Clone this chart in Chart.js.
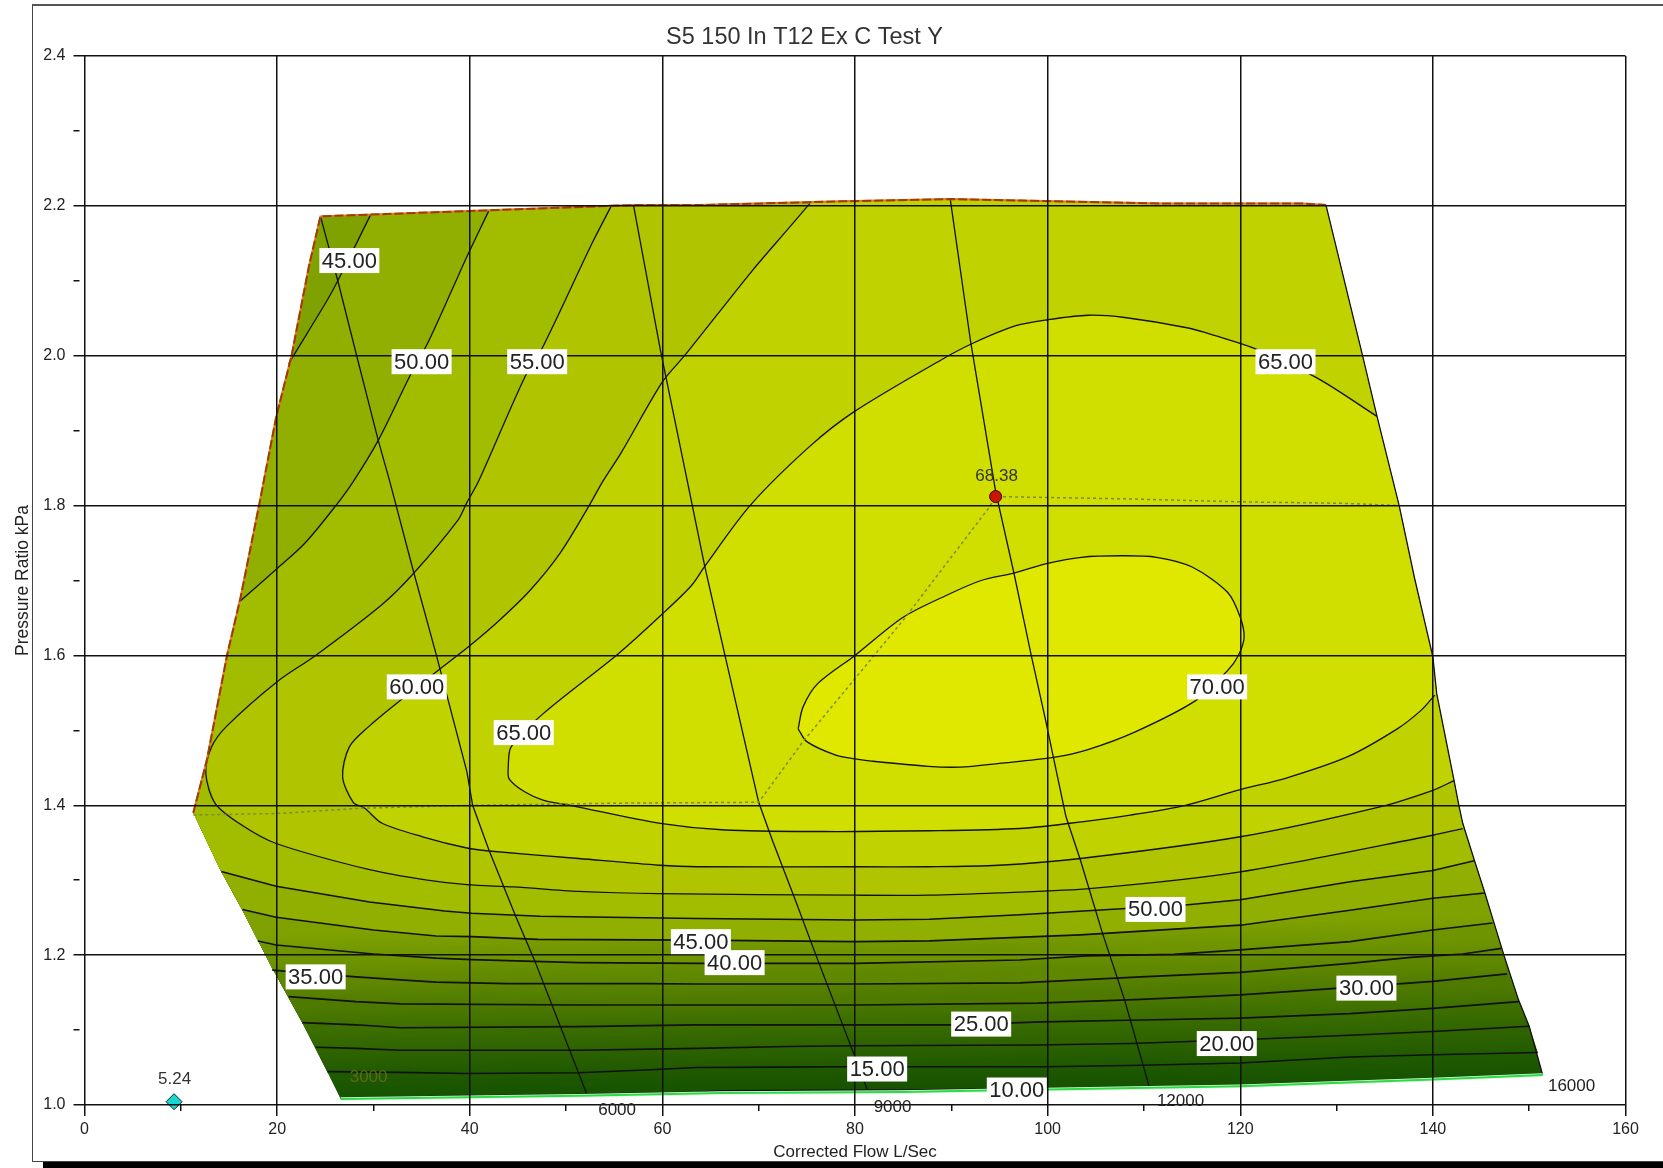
<!DOCTYPE html>
<html lang="en">
<head>
    <meta charset="UTF-8">
    <title>S5 150 In T12 Ex C Test Y</title>
    <script src="https://cdn.jsdelivr.net/npm/chart.js"></script>
    <style>
        body { margin: 0; background: white; overflow: hidden; }
        #wrap { position: relative; width: 1663px; height: 1168px; }
        #frame { position: absolute; left: 32px; top: 4px; right: 0; bottom: 6px; border-left: 1px solid #444; border-top: 2px solid #555; border-bottom: 1px solid #444; }
        #shadow { position: absolute; left: 43px; right: 0; bottom: 0; height: 6px; background: black; }
        canvas { position: absolute; left: 0; top: 0; }
    </style>
</head>
<body>
    <div id="wrap">
        <div id="frame"></div>
        <div id="shadow"></div>
        <canvas id="map" width="1663" height="1168"></canvas>
    </div>

    <script>
        var chartTitle = "S5 150 In T12 Ex C Test Y";
        var xTitle = "Corrected Flow L/Sec";
        var yTitle = "Pressure Ratio kPa";

        // outline of the map, [flow, pressure ratio]
        var boundaryLeft = [[24.5,2.186],[23.3,2.119],[21.5,2.0],[19.9,1.918],[18.2,1.805],[16.2,1.677],[14.8,1.6],[12.7,1.46],[11.3,1.39],[14.1,1.314],[16.4,1.26],[19.4,1.185],[22.6,1.11],[25.2,1.0445],[26.6,1.008]];
        var boundaryTop = [[128.9,2.201],[126.5,2.203],[111.9,2.203],[97.3,2.207],[89.9,2.209],[78.6,2.206],[63.7,2.201],[57,2.201],[54.7,2.2],[42,2.194],[24.5,2.186]];
        var boundaryRight = [[151.4,1.04],[150,1.105],[148.9,1.14],[147.4,1.199],[146.3,1.245],[145.4,1.283],[144.3,1.327],[143.1,1.376],[142.7,1.4],[142.2,1.433],[140.4,1.549],[140,1.598],[138.1,1.703],[136.5,1.8],[134.2,1.919],[132.7,2.0],[128.9,2.201]];
        var boundaryBottom = [[26.6,1.008],[39.7,1.0105],[51.3,1.0125],[63.6,1.0155],[66,1.016],[84.8,1.0175],[93.7,1.0195],[120,1.025],[140,1.034],[151.4,1.04]];

        // efficiency contours
        var contour10 = [[26.6,1.009],[39.7,1.012],[51.3,1.014],[63.6,1.017],[66,1.019],[84.8,1.02],[93.7,1.021],[100,1.022]];
        var contour15 = [[25.2,1.0445],[32.8,1.0436],[39.7,1.042],[51.3,1.043],[58.8,1.047],[63.6,1.05],[72,1.0505],[80,1.051],[91.4,1.051],[100,1.051],[109.7,1.053],[120,1.056],[131.4,1.064],[140,1.067],[150.9,1.07]];
        var contour20 = [[24,1.077],[28.2,1.0756],[32.8,1.073],[51.3,1.073],[63.6,1.0756],[73,1.078],[80,1.079],[98.9,1.08],[108.6,1.082],[120,1.087],[131.4,1.093],[140,1.098],[150,1.105]];
        var contour25 = [[22.6,1.11],[28.2,1.107],[32.8,1.103],[51.3,1.1046],[63.6,1.107],[80,1.107],[90.3,1.107],[99.4,1.111],[109.7,1.1135],[120,1.116],[131.4,1.122],[140,1.129],[148.9,1.138]];
        var contour30 = [[21.2,1.1446],[28.2,1.138],[32.8,1.135],[51.3,1.1335],[63.6,1.1335],[80,1.1335],[98.9,1.136],[109.7,1.141],[120,1.147],[130.3,1.156],[140,1.165],[147.7,1.175]];
        var contour35 = [[19.5,1.18],[28.2,1.171],[32.8,1.167],[36.5,1.164],[43.9,1.162],[58.2,1.162],[63.6,1.1615],[80,1.1615],[97.1,1.163],[109.7,1.171],[120,1.177],[131.4,1.189],[137.7,1.197],[143.1,1.2015],[147.1,1.209]];
        var contour40 = [[18,1.219],[19.9,1.2136],[30,1.2016],[36.5,1.196],[40.2,1.194],[51.3,1.19],[63.6,1.189],[80,1.189],[97.1,1.1935],[104,1.199],[113.1,1.201],[120,1.207],[131.4,1.218],[140,1.2336],[146.2,1.243]];
        var contour45 = [[16.4,1.261],[19.9,1.2505],[30,1.2336],[36.5,1.2256],[40.2,1.2247],[47.1,1.221],[63.6,1.22],[80,1.218],[87.7,1.219],[103.4,1.227],[120,1.24],[131.4,1.26],[140,1.276],[145.4,1.283]];
        var contour45Upper = [[29.7,2.188],[26.3,2.1],[25.2,2.074],[21.7,2.0],[21.2,1.989]];
        var contour50 = [[14.2,1.3115],[19.9,1.292],[29.6,1.271],[37.4,1.259],[40.2,1.256],[47.3,1.252],[54.5,1.2505],[63.6,1.249],[80,1.247],[87.7,1.248],[97.1,1.254],[114.3,1.267],[120,1.274],[131.4,1.298],[140,1.313],[144.3,1.326]];
        var contour50Upper = [[42,2.194],[39.7,2.132],[38.3,2.092],[35.6,2.016],[33.9,1.976],[30.5,1.887],[27.9,1.832],[26.1,1.8],[22.9,1.75],[20,1.716],[16.2,1.673]];
        var contour55 = [[54.7,2.2],[52.7,2.15],[47.6,2.012],[45.7,1.971],[40.9,1.832],[39.7,1.804],[38.8,1.781],[34.2,1.71],[30.9,1.668],[24,1.6],[20,1.565],[14.8,1.506],[13.2,1.478],[12.6,1.442],[13.6,1.402],[16.4,1.373],[19.9,1.349],[29.6,1.314],[35.6,1.3],[39.7,1.294],[44.6,1.291],[51.3,1.285],[59.7,1.282],[80,1.28],[87.7,1.28],[94.9,1.283],[104.6,1.289],[120,1.311],[140,1.36],[143.1,1.369]];
        var contour60 = [[75.3,2.203],[72.9,2.167],[69.3,2.113],[62.3,2.0],[60,1.965],[55.7,1.87],[53.8,1.832],[52.4,1.8],[49.4,1.737],[46.2,1.686],[43,1.646],[40,1.613],[36.7,1.58],[32.3,1.535],[29.6,1.506],[27.5,1.478],[26.8,1.438],[27.9,1.404],[29.1,1.396],[30.9,1.376],[35.1,1.358],[39.7,1.343],[42,1.339],[51.3,1.329],[59.7,1.32],[63.6,1.318],[80,1.318],[87.7,1.318],[94.9,1.32],[103.4,1.329],[120,1.358],[134.5,1.398],[140,1.42],[142.2,1.433]];
        var contour65 = [[134.2,1.919],[128,1.97],[121.4,2.01],[117.6,2.026],[114.6,2.037],[108,2.051],[104.2,2.054],[100,2.048],[96.7,2.04],[92.3,2.017],[89.3,1.997],[80,1.926],[75.3,1.879],[69.1,1.8],[64.4,1.719],[63,1.693],[59.8,1.653],[55.4,1.602],[47.6,1.522],[44.3,1.478],[44,1.451],[44.1,1.435],[45.7,1.418],[47.6,1.407],[50.8,1.399],[59.8,1.376],[66.5,1.367],[76.6,1.365],[87.7,1.366],[97.1,1.369],[102.3,1.376],[108.6,1.387],[114.3,1.4],[120,1.421],[124.7,1.436],[131.1,1.4645],[136.3,1.502],[138.8,1.527],[140.2,1.547]];
        var contour70 = [[74.1,1.502],[74.6,1.531],[76.1,1.562],[80,1.6],[85,1.651],[89.8,1.682],[93.1,1.7],[96.5,1.71],[100,1.723],[103.5,1.731],[107.6,1.733],[111.3,1.731],[115,1.718],[118.7,1.684],[120,1.651],[120.4,1.624],[119.8,1.6],[118.7,1.58],[115.4,1.54],[109.1,1.498],[104.1,1.474],[100.6,1.464],[95,1.456],[90.9,1.451],[87.6,1.452],[81.7,1.459],[80,1.462],[78,1.467],[75,1.485],[74.1,1.502]];

        // speed lines
        var speed6000 = [[24.5,2.186],[26.3,2.1],[28.2,2.003],[30.5,1.887],[31.7,1.832],[34.2,1.71],[36.5,1.602],[39.7,1.445],[40.3,1.4],[42,1.34],[44.8,1.251],[46.7,1.194],[49.4,1.105],[52.2,1.013]];
        var speed9000 = [[57,2.201],[59.8,2.007],[62.6,1.832],[64.4,1.719],[66.5,1.6],[70,1.404],[71.4,1.354],[73.8,1.2736],[76,1.198],[80,1.064],[81.4,1.016]];
        var speed12000 = [[89.9,2.208],[92,2.019],[94.6,1.819],[96.5,1.71],[98.3,1.6],[99.8,1.513],[100.6,1.464],[101.9,1.385],[103.4,1.327],[105.7,1.229],[108,1.14],[110.6,1.022]];

        var peakLine = [[11.3,1.387],[20,1.389],[28.6,1.396],[40.2,1.4],[56.6,1.403],[70,1.404],[74.6,1.485],[80,1.569],[85,1.647],[93.9,1.797],[94.6,1.812],[108,1.809],[120,1.805],[130.7,1.803],[136.5,1.8]];
        var peakPoint = [[94.6,1.812]];
        var minPoint = [[9.3,1.0044]];

        var levelLabels = ["45.00","50.00","55.00","65.00","60.00","70.00","65.00","50.00","45.00","40.00","35.00","30.00","25.00","20.00","15.00","10.00"];
        var levelLabelX = [27.5,35,47,124.7,34.5,117.6,45.6,111.2,64,67.5,24,133.1,93.1,118.6,82.3,96.8];
        var levelLabelY = [2.127,1.992,1.992,1.992,1.558,1.558,1.497,1.261,1.218,1.19,1.171,1.156,1.108,1.082,1.048,1.02];

        var speedLabels = ["3000","6000","9000","12000","16000"];
        var speedLabelX = [29.5,55.3,83.9,113.8,154.4];
        var speedLabelY = [1.037,0.993,0.9975,1.0047,1.0246];

        var pointLabels = ["5.24","68.38"];
        var pointLabelX = [9.36,94.7];
        var pointLabelY = [1.034,1.839];

        // colour reached at each contour level in the low part of the map
        var lowColors = ["rgb(22,82,0)","rgb(32,90,0)","rgb(46,99,0)","rgb(60,110,0)","rgb(78,122,0)","rgb(95,135,0)","rgb(110,148,0)","rgb(128,162,0)"];
        var highColors = ["#91af00","#a2bc00","#b0c500","#c0d200","#d0de00","#e0e800"];

        function toPts(arr) {
            return arr.map(function (p) { return { x: p[0], y: p[1] }; });
        }

        // region above a contour running left to right
        function above(line) {
            var first = line[0], last = line[line.length - 1];
            return line
                .concat(boundaryRight.filter(function (p) { return p[1] > last[1]; }))
                .concat(boundaryTop)
                .concat(boundaryLeft.filter(function (p) { return p[1] > first[1]; }));
        }

        function aboveWithCorner(line, upper) {
            var first = line[0], last = line[line.length - 1];
            var u0 = upper[0], u1 = upper[upper.length - 1];
            return line
                .concat(boundaryRight.filter(function (p) { return p[1] > last[1]; }))
                .concat(boundaryTop.filter(function (p) { return p[0] > u0[0]; }))
                .concat(upper)
                .concat(boundaryLeft.filter(function (p) { return p[1] < u1[1] && p[1] > first[1]; }));
        }

        function aboveFromTop(line) {
            var first = line[0], last = line[line.length - 1];
            return line
                .concat(boundaryRight.filter(function (p) { return p[1] > last[1]; }))
                .concat(boundaryTop.filter(function (p) { return p[0] > first[0]; }));
        }

        function ringRegion(line) {
            var first = line[0], last = line[line.length - 1];
            return line.concat(boundaryRight.filter(function (p) { return p[1] > last[1] && p[1] < first[1]; }));
        }

        var whole = boundaryBottom.concat(boundaryRight).concat(boundaryTop).concat(boundaryLeft);
        var lowLines = [contour10, contour15, contour20, contour25, contour30, contour35, contour40, contour45];
        var lowRegions = [whole, above(contour15), above(contour20), above(contour25), above(contour30), above(contour35), above(contour40)];
        var highRegions = [aboveWithCorner(contour45, contour45Upper), aboveWithCorner(contour50, contour50Upper),
            aboveFromTop(contour55), aboveFromTop(contour60), ringRegion(contour65), contour70];

        var datasets = [];
        lowRegions.forEach(function (r, i) {
            datasets.push({ data: toPts(r), regionLow: i, showLine: false, pointRadius: 0, order: 100 - i });
        });
        highRegions.forEach(function (r, i) {
            datasets.push({ data: toPts(r), regionColor: highColors[i], showLine: false, pointRadius: 0, order: 90 - i });
        });

        // higher order is drawn first
        function lineSet(arr, color, width, order, dash, tension) {
            return { data: toPts(arr), showLine: true, pointRadius: 0, borderColor: color, borderWidth: width, borderDash: dash || [], tension: tension || 0, fill: false, clip: false, order: order };
        }

        [contour10, contour15, contour20, contour25, contour30, contour35, contour40, contour45, contour50].forEach(function (c) {
            datasets.push(lineSet(c, "#111", 1.6, 20));
        });
        [contour45Upper, contour50Upper, contour55, contour60, contour65, contour70].forEach(function (c) {
            datasets.push(lineSet(c, "#111", 1.3, 20, null, 0.3));
        });
        [speed6000, speed9000, speed12000, boundaryRight].forEach(function (c) {
            datasets.push(lineSet(c, "#111", 1.3, 20));
        });
        datasets.push(lineSet(peakLine, "#7f8a38", 1.5, 10, [3, 3]));
        datasets.push(lineSet(boundaryBottom, "#dcffdc", 3.5, 9));
        datasets.push(lineSet(boundaryBottom, "#2fd84a", 2, 8));
        var surge = boundaryLeft.slice(0, 9).reverse().concat(boundaryTop.slice().reverse());
        datasets.push(lineSet(surge, "#e07c1c", 2, 7));
        datasets.push(lineSet(surge, "#a03a08", 2, 6, [9, 3]));

        datasets.push({ data: toPts(peakPoint), pointRadius: 6, pointBackgroundColor: "#cc1500", pointBorderColor: "#300", pointBorderWidth: 1, showLine: false, clip: false, order: 1 });
        datasets.push({ data: toPts(minPoint), pointRadius: 8, pointStyle: "rectRot", pointBackgroundColor: "#18d6d0", pointBorderColor: "#123", pointBorderWidth: 1, showLine: false, clip: false, order: 1 });

        function meanPixel(line, sx, sy) {
            var mx = 0, my = 0;
            line.forEach(function (p) {
                mx += sx.getPixelForValue(p[0]);
                my += sy.getPixelForValue(p[1]);
            });
            return { x: mx / line.length, y: my / line.length };
        }

        // colour runs from one contour to the next, across the contour's overall slope
        function bandGradient(ctx, i, sx, sy) {
            var line = i === 0 ? lowLines[1] : lowLines[i];
            var a = line[0], b = line[line.length - 1];
            var dx = sx.getPixelForValue(b[0]) - sx.getPixelForValue(a[0]);
            var dy = sy.getPixelForValue(b[1]) - sy.getPixelForValue(a[1]);
            var len = Math.sqrt(dx * dx + dy * dy);
            var nx = dy / len, ny = -dx / len;
            var m0 = meanPixel(lowLines[i], sx, sy), m1 = meanPixel(lowLines[i + 1], sx, sy);
            var d = (m1.x - m0.x) * nx + (m1.y - m0.y) * ny;
            var g = ctx.createLinearGradient(m0.x, m0.y, m0.x + nx * d, m0.y + ny * d);
            g.addColorStop(0, lowColors[i]);
            g.addColorStop(1, lowColors[i + 1]);
            return g;
        }

        var regionFill = {
            id: "regionFill",
            beforeDatasetsDraw: function (chart) {
                var ctx = chart.ctx;
                chart.data.datasets.forEach(function (ds, i) {
                    if (ds.regionLow === undefined && !ds.regionColor) return;
                    var pts = chart.getDatasetMeta(i).data;
                    ctx.beginPath();
                    pts.forEach(function (p, k) {
                        if (k === 0) ctx.moveTo(p.x, p.y); else ctx.lineTo(p.x, p.y);
                    });
                    ctx.closePath();
                    ctx.fillStyle = ds.regionColor || bandGradient(ctx, ds.regionLow, chart.scales.x, chart.scales.y);
                    ctx.fill();
                });
            }
        };

        var mapLabels = {
            id: "mapLabels",
            afterDraw: function (chart) {
                var ctx = chart.ctx, sx = chart.scales.x, sy = chart.scales.y;
                ctx.save();
                ctx.textAlign = "center";
                ctx.textBaseline = "middle";
                ctx.font = '22px "Liberation Sans"';
                levelLabels.forEach(function (t, i) {
                    var px = sx.getPixelForValue(levelLabelX[i]), py = sy.getPixelForValue(levelLabelY[i]);
                    ctx.fillStyle = "white";
                    ctx.fillRect(px - 30, py - 12.5, 60, 25);
                    ctx.fillStyle = "#222";
                    ctx.fillText(t, px, py + 1);
                });
                ctx.font = '17px "Liberation Sans"';
                speedLabels.forEach(function (t, i) {
                    ctx.fillStyle = i === 0 ? "#5a6a1a" : "#222";
                    ctx.fillText(t, sx.getPixelForValue(speedLabelX[i]), sy.getPixelForValue(speedLabelY[i]));
                });
                pointLabels.forEach(function (t, i) {
                    ctx.fillStyle = "#333";
                    ctx.fillText(t, sx.getPixelForValue(pointLabelX[i]), sy.getPixelForValue(pointLabelY[i]));
                });
                ctx.restore();
            }
        };

        // title sits left of the canvas centre in the original
        var titleShift = {
            id: "titleShift",
            afterLayout: function (chart) {
                chart.titleBlock.left = 0;
                chart.titleBlock.right = 1609;
            }
        };

        function isMajor(v, every) {
            return Math.round(v * 10) % every === 0;
        }

        Chart.defaults.font.family = '"Liberation Sans", Arial, sans-serif';
        Chart.defaults.color = "#222";

        new Chart(document.getElementById("map"), {
            type: "scatter",
            data: { datasets: datasets },
            plugins: [regionFill, mapLabels, titleShift],
            options: {
                responsive: false,
                animation: false,
                layout: { padding: { left: 0, top: 0, right: 37.5, bottom: 0 } },
                plugins: {
                    legend: { display: false },
                    tooltip: { enabled: false },
                    title: { display: true, text: chartTitle, color: "#333", font: { size: 23.5, weight: "normal" }, padding: { top: 23, bottom: 4.8 } }
                },
                scales: {
                    x: {
                        type: "linear", min: 0, max: 160,
                        afterFit: function (scale) { scale.height = 63; },
                        ticks: {
                            stepSize: 10, autoSkip: false, maxRotation: 0, padding: 4, font: { size: 16 }, color: "#222",
                            callback: function (v) { return isMajor(v, 200) ? v : ""; }
                        },
                        grid: {
                            z: 1, lineWidth: 1.5, tickLength: 11, tickColor: "#111",
                            color: function (c) { return c.tick && isMajor(c.tick.value, 200) ? "#111" : "rgba(0,0,0,0)"; },
                            tickBorderDash: function (c) { return c.tick && isMajor(c.tick.value, 200) ? [] : [6, 100]; }
                        },
                        border: { display: false },
                        title: { display: true, text: xTitle, font: { size: 17 }, color: "#222", padding: { top: 0, bottom: 5 } }
                    },
                    y: {
                        type: "linear", min: 1, max: 2.4,
                        afterFit: function (scale) { scale.width = 84.5; },
                        ticks: {
                            stepSize: 0.1, autoSkip: false, padding: 8, font: { size: 16 }, color: "#222",
                            callback: function (v) { return isMajor(v, 2) ? v.toFixed(1) : ""; }
                        },
                        grid: {
                            z: 1, lineWidth: 1.5, tickLength: 11, tickColor: "#111",
                            color: function (c) { return c.tick && isMajor(c.tick.value, 2) ? "#111" : "rgba(0,0,0,0)"; },
                            tickBorderDash: function (c) { return c.tick && isMajor(c.tick.value, 2) ? [] : [6, 100]; }
                        },
                        border: { display: false },
                        title: { display: true, text: yTitle, font: { size: 17.5 }, color: "#222", padding: { top: 13, bottom: 0 } }
                    }
                }
            }
        });
    </script>
</body>
</html>
